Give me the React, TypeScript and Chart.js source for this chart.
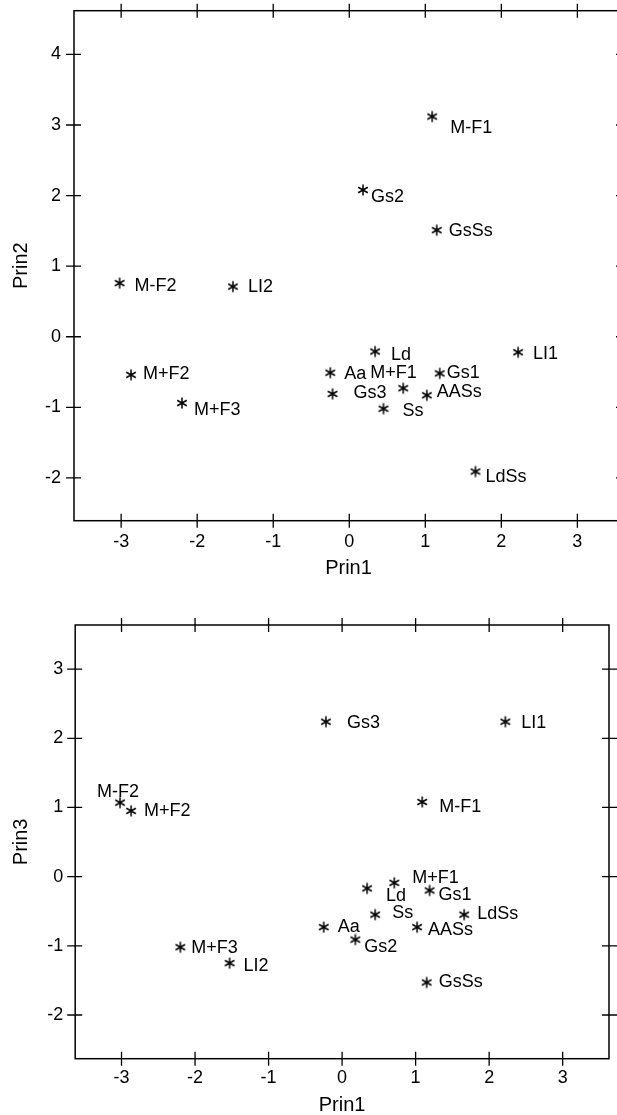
import React, { useEffect, useRef } from 'react';
import { Chart, registerables } from 'chart.js';
Chart.register(...registerables);

// ---- data ----
const names = ['M-F1', 'M-F2', 'M+F1', 'M+F2', 'M+F3', 'LI1', 'LI2', 'Ld', 'LdSs', 'Aa', 'AASs', 'Gs1', 'Gs2', 'Gs3', 'Ss', 'GsSs'];
const prin1 = [1.09, -3.02, 0.71, -2.87, -2.2, 2.22, -1.53, 0.34, 1.66, -0.25, 1.02, 1.19, 0.18, -0.22, 0.45, 1.15];
const prin2 = [3.12, 0.76, -0.73, -0.54, -0.94, -0.22, 0.71, -0.21, -1.91, -0.51, -0.83, -0.52, 2.08, -0.81, -1.02, 1.51];
const prin3 = [1.08, 1.07, -0.09, 0.95, -1.02, 2.24, -1.25, -0.17, -0.55, -0.73, -0.73, -0.2, -0.91, 2.24, -0.55, -1.53];
const xTicks = [-3, -2, -1, 0, 1, 2, 3];
const yTicksPrin2 = [-2, -1, 0, 1, 2, 3, 4];
const yTicksPrin3 = [-2, -1, 0, 1, 2, 3];

// label placement (pixel offsets from each point), one list per plot
const labelOffsets2 = [[18, 11], [15, 3], [-33, -15], [12, -1], [12, 7], [15, 2], [15, 0], [16, 3], [10, 6], [14, 1], [10, -3], [7, 0], [8, 7], [21, -1], [19, 2], [12, 1]];
const labelOffsets3 = [[17, 5], [-23, -11], [18, -5], [13, 0], [11, 1], [16, 1], [14, 3], [19, 8], [13, -1], [14, 0], [11, 3], [9, 5], [9, 7], [21, 1], [17, -2], [12, 0]];

const FONT = "'Liberation Sans', Arial, Helvetica, sans-serif";

function makeStar(): HTMLCanvasElement {
  const c = document.createElement('canvas');
  c.width = 14;
  c.height = 14;
  const ctx = c.getContext('2d')!;
  const m = 7;
  const r = 5.5;
  ctx.strokeStyle = '#000';
  ctx.lineWidth = 1.5;
  ctx.beginPath();
  ctx.moveTo(m, m - r);
  ctx.lineTo(m, m + r);
  const dx = r * Math.cos(Math.PI / 6);
  const dy = r * Math.sin(Math.PI / 6);
  ctx.moveTo(m - dx, m - dy);
  ctx.lineTo(m + dx, m + dy);
  ctx.moveTo(m - dx, m + dy);
  ctx.lineTo(m + dx, m - dy);
  ctx.stroke();
  return c;
}

function framePlugin(yTicks: number[], offsets: number[][]) {
  return {
    id: 'frameAndLabels',
    afterDraw(chart: any) {
      const { ctx, chartArea: a, scales } = chart;
      ctx.save();
      ctx.strokeStyle = '#000';
      ctx.lineWidth = 1.5;
      ctx.strokeRect(a.left, a.top, a.right - a.left, a.bottom - a.top);
      ctx.lineWidth = 1.3;
      ctx.beginPath();
      xTicks.forEach((v) => {
        const px = scales.x.getPixelForValue(v);
        ctx.moveTo(px, a.top - 7);
        ctx.lineTo(px, a.top + 7);
        ctx.moveTo(px, a.bottom - 7);
        ctx.lineTo(px, a.bottom + 7);
      });
      yTicks.forEach((v) => {
        const py = scales.y.getPixelForValue(v);
        ctx.moveTo(a.left - 8, py);
        ctx.lineTo(a.left + 7, py);
        ctx.moveTo(a.right - 7, py);
        ctx.lineTo(a.right + 8, py);
      });
      ctx.stroke();
      // point labels
      const meta = chart.getDatasetMeta(0);
      ctx.fillStyle = '#000';
      ctx.font = `18px ${FONT}`;
      ctx.textAlign = 'left';
      ctx.textBaseline = 'middle';
      meta.data.forEach((el: any, i: number) => {
        const [ox, oy] = offsets[i];
        ctx.fillText(names[i], el.x + ox, el.y + oy);
      });
      ctx.restore();
    },
  };
}

function makeConfig(opts: {
  ys: number[];
  yTicks: number[];
  yTitle: string;
  offsets: number[][];
  xMin: number;
  xMax: number;
  yMin: number;
  yMax: number;
  padTop: number;
  padRight: number;
  yWidth: number;
  xHeight: number;
  xTickPad: number;
  yTickPad: number;
  xTitlePad: number;
  star: HTMLCanvasElement;
}) {
  const tickFont = { family: FONT, size: 18 };
  const titleFont = { family: FONT, size: 20, lineHeight: 1 };
  const zeroPad = (s: any) => {
    s.paddingTop = 0;
    s.paddingBottom = 0;
    s.paddingLeft = 0;
    s.paddingRight = 0;
  };
  return {
    type: 'scatter' as const,
    data: {
      datasets: [
        {
          data: prin1.map((x, i) => ({ x, y: opts.ys[i] })),
          pointStyle: opts.star,
          pointRadius: 7,
          showLine: false,
        },
      ],
    },
    options: {
      responsive: false,
      animation: false as const,
      events: [],
      layout: { padding: { top: opts.padTop, right: opts.padRight, bottom: 0, left: 0 } },
      plugins: { legend: { display: false }, tooltip: { enabled: false } },
      scales: {
        x: {
          type: 'linear' as const,
          min: opts.xMin,
          max: opts.xMax,
          grid: { display: false, drawTicks: false },
          border: { display: false },
          afterBuildTicks: (s: any) => {
            s.ticks = xTicks.map((v) => ({ value: v }));
          },
          afterFit: (s: any) => {
            s.height = opts.xHeight;
            zeroPad(s);
          },
          ticks: { font: tickFont, color: '#000', padding: opts.xTickPad, maxRotation: 0, autoSkip: false },
          title: { display: true, text: 'Prin1', font: titleFont, color: '#000', padding: { top: 0, bottom: opts.xTitlePad } },
        },
        y: {
          type: 'linear' as const,
          min: opts.yMin,
          max: opts.yMax,
          grid: { display: false, drawTicks: false },
          border: { display: false },
          afterBuildTicks: (s: any) => {
            s.ticks = opts.yTicks.map((v) => ({ value: v }));
          },
          afterFit: (s: any) => {
            s.width = opts.yWidth;
            zeroPad(s);
          },
          ticks: { font: tickFont, color: '#000', padding: opts.yTickPad, autoSkip: false },
          title: { display: true, text: opts.yTitle, font: titleFont, color: '#000', padding: { top: 11.7, bottom: 0 } },
        },
      },
    },
    plugins: [framePlugin(opts.yTicks, opts.offsets)],
  };
}

export default function App() {
  const ref1 = useRef<HTMLCanvasElement>(null);
  const ref2 = useRef<HTMLCanvasElement>(null);

  useEffect(() => {
    const star = makeStar();
    const c1 = new Chart(
      ref1.current!,
      makeConfig({
        ys: prin2,
        yTicks: yTicksPrin2,
        yTitle: 'Prin2',
        offsets: labelOffsets2,
        xMin: -3.62,
        xMax: 3.6,
        yMin: -2.607,
        yMax: 4.62,
        padTop: 10.7,
        padRight: 17,
        yWidth: 74,
        xHeight: 79.3,
        xTickPad: 10.2,
        yTickPad: 13,
        xTitlePad: 22,
        star,
      }) as any
    );
    const c2 = new Chart(
      ref2.current!,
      makeConfig({
        ys: prin3,
        yTicks: yTicksPrin3,
        yTitle: 'Prin3',
        offsets: labelOffsets3,
        xMin: -3.63,
        xMax: 3.63,
        yMin: -2.632,
        yMax: 3.638,
        padTop: 25,
        padRight: 6.2,
        yWidth: 75.2,
        xHeight: 56.3,
        xTickPad: 8.5,
        yTickPad: 12,
        xTitlePad: 0,
        star,
      }) as any
    );
    return () => {
      c1.destroy();
      c2.destroy();
    };
  }, []);

  return (
    <div style={{ position: 'absolute', left: 0, top: 0, width: 617, height: 1115, overflow: 'hidden', background: '#fff' }}>
      <div style={{ position: 'absolute', left: 0, top: 0, width: 617, height: 600, overflow: 'hidden' }}>
        <canvas ref={ref1} width={640} height={600} style={{ display: 'block' }} />
      </div>
      <div style={{ position: 'absolute', left: 0, top: 600, width: 617, height: 515, overflow: 'hidden' }}>
        <canvas ref={ref2} width={617} height={515} style={{ display: 'block' }} />
      </div>
    </div>
  );
}
